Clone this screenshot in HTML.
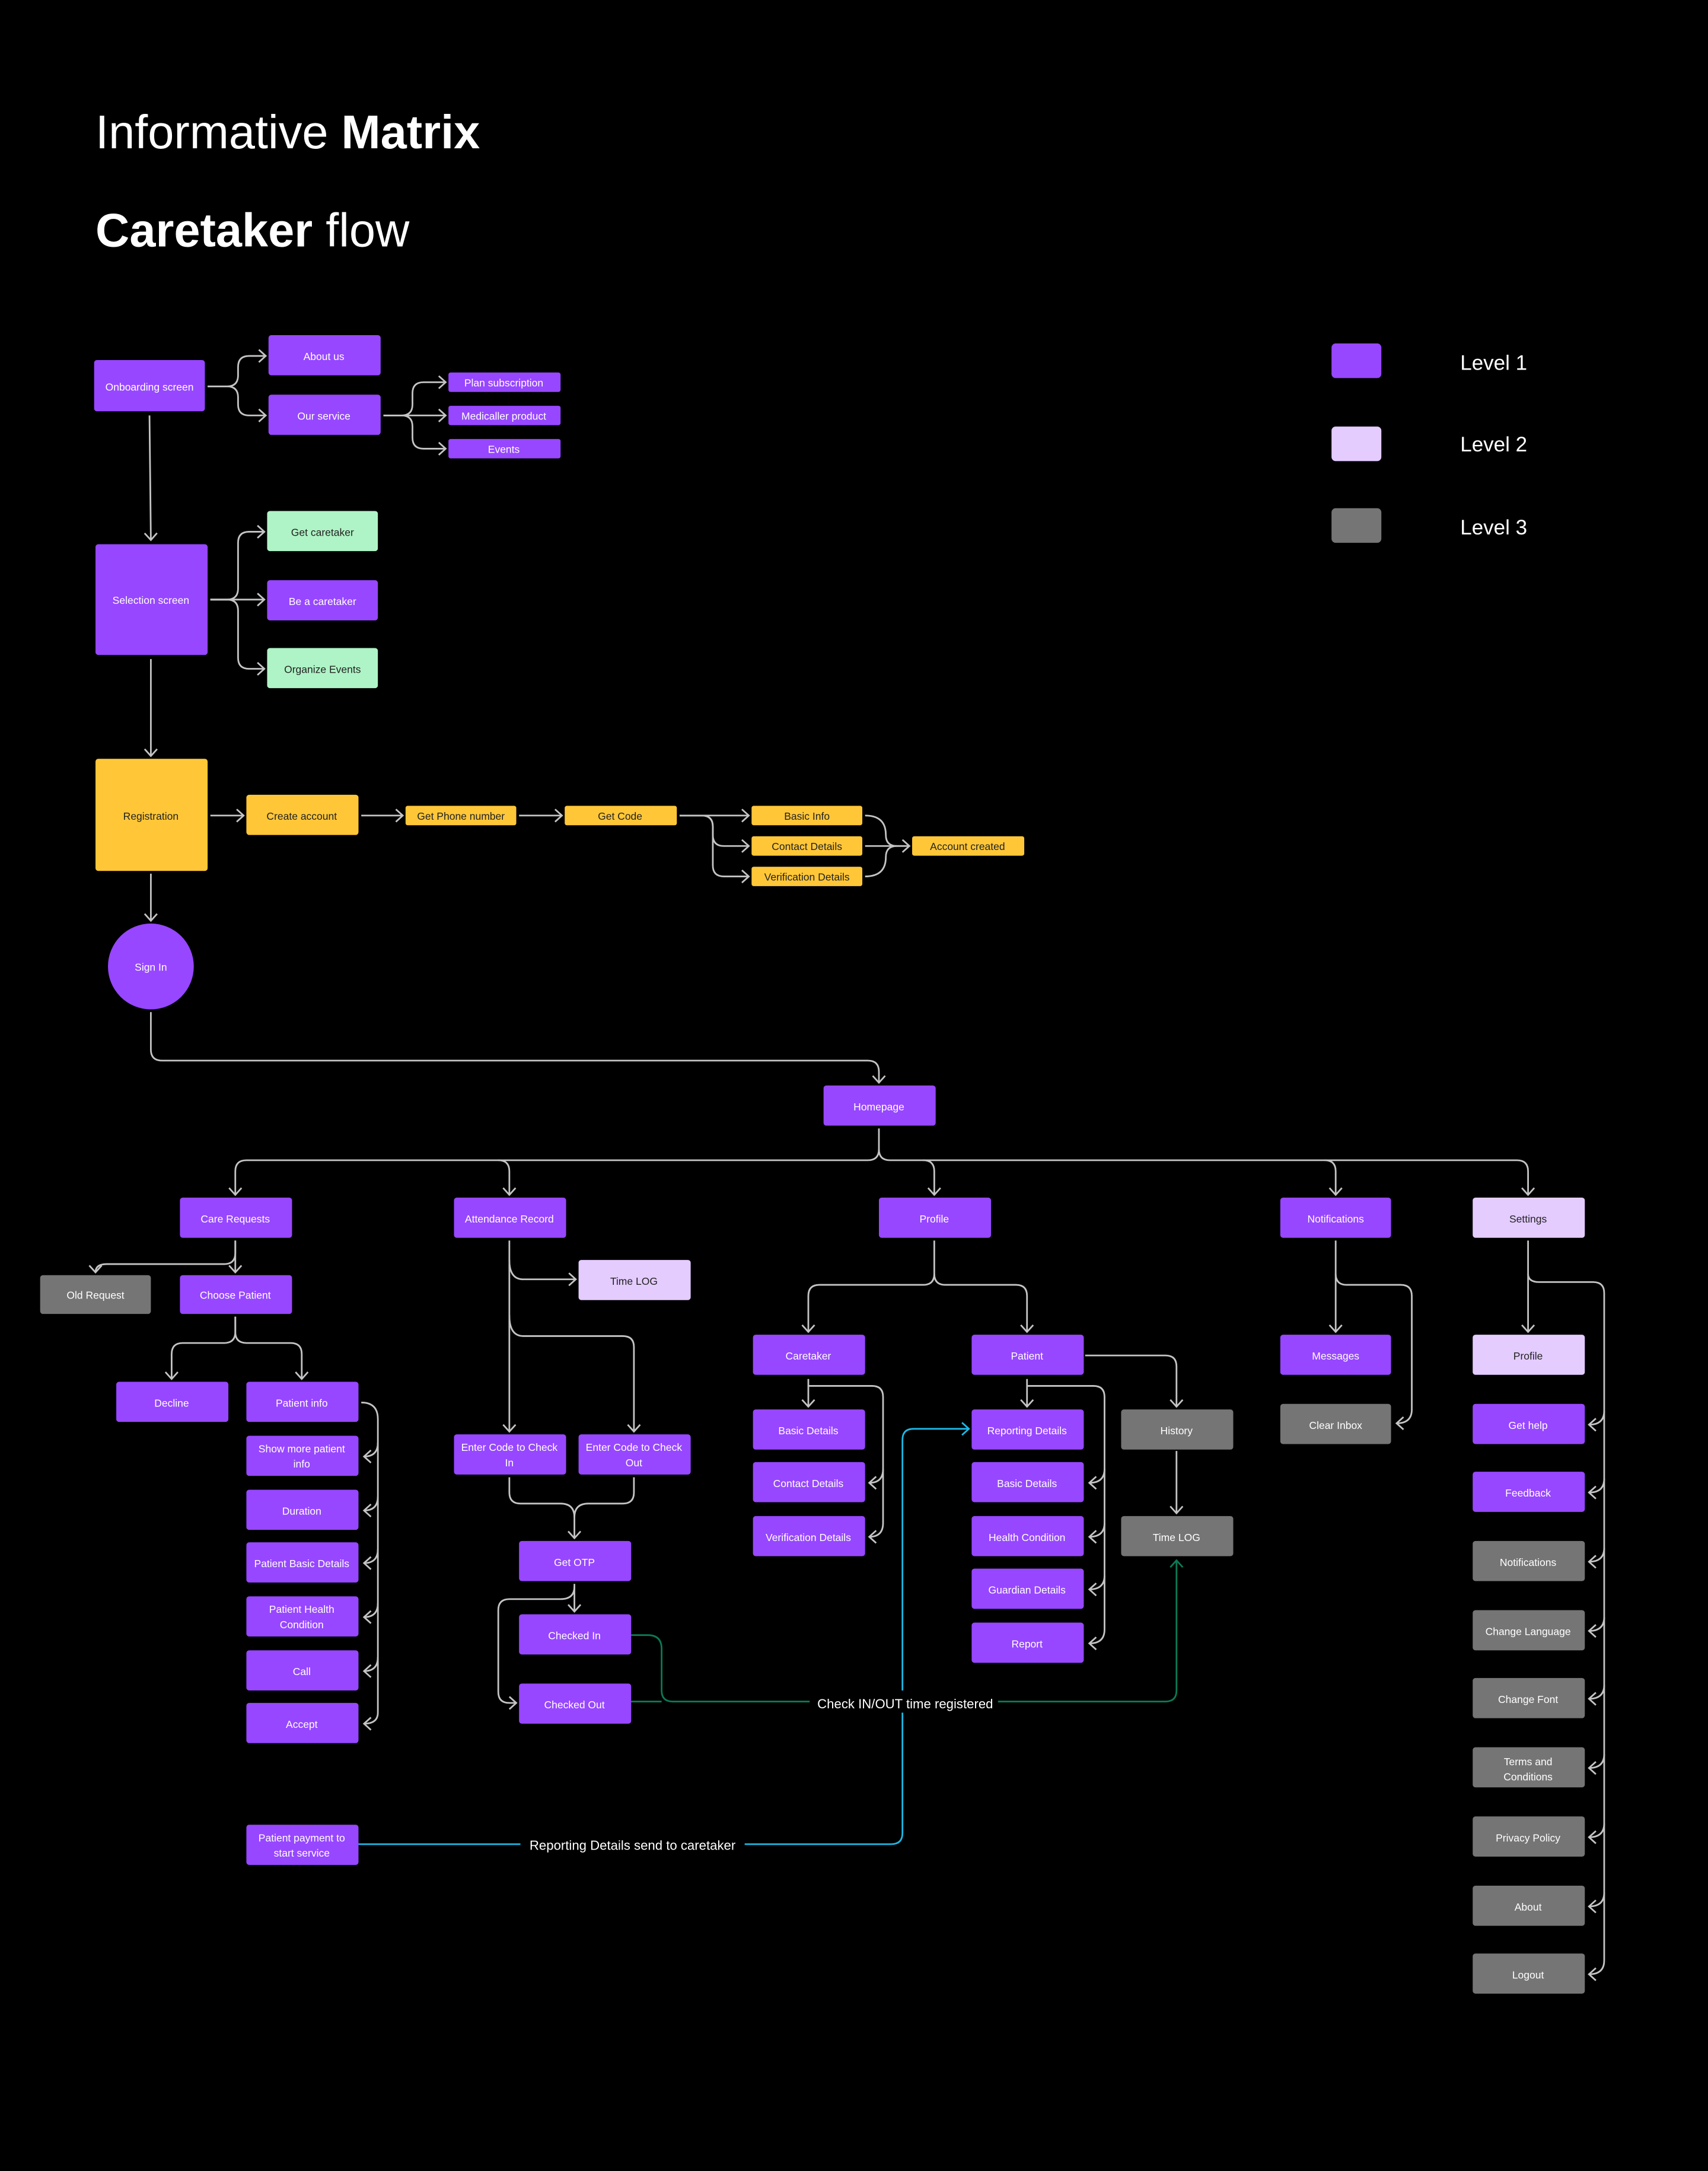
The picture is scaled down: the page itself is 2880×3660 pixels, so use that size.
<!DOCTYPE html>
<html><head><meta charset="utf-8"><style>
html,body{margin:0;padding:0;background:#000;}
svg{display:block;}
text{font-family:"Liberation Sans",sans-serif;}
</style></head><body>
<svg width="2880" height="3660" viewBox="0 0 1234 1568" xmlns="http://www.w3.org/2000/svg">
<defs>
<marker id="a" markerUnits="userSpaceOnUse" markerWidth="12" markerHeight="12" refX="6" refY="5" orient="auto"><path d="M1,0.5 L6,5 L1,9.5" fill="none" stroke="#c4c4c4" stroke-width="1.2"/></marker>
<marker id="at" markerUnits="userSpaceOnUse" markerWidth="12" markerHeight="12" refX="6" refY="5" orient="auto"><path d="M1,0.5 L6,5 L1,9.5" fill="none" stroke="#1cb8e6" stroke-width="1.2"/></marker>
<marker id="ag" markerUnits="userSpaceOnUse" markerWidth="12" markerHeight="12" refX="6" refY="5" orient="auto"><path d="M1,0.5 L6,5 L1,9.5" fill="none" stroke="#0b7a55" stroke-width="1.2"/></marker>
</defs>
<rect width="1234" height="1568" fill="#000"/>
<text x="69" y="107" fill="#fff" font-size="34">Informative <tspan font-weight="bold">Matrix</tspan></text>
<text x="69" y="178" fill="#fff" font-size="34"><tspan font-weight="bold">Caretaker</tspan> flow</text>

<rect x="962" y="248" width="36" height="25" rx="3" fill="#9747ff"/>
<rect x="962" y="308" width="36" height="25" rx="3" fill="#e4ccff"/>
<rect x="962" y="367" width="36" height="25" rx="3" fill="#757575"/>
<text x="1055" y="267" fill="#fff" font-size="15">Level 1</text>
<text x="1055" y="326" fill="#fff" font-size="15">Level 2</text>
<text x="1055" y="386" fill="#fff" font-size="15">Level 3</text>

<g fill="none" stroke="#c4c4c4" stroke-width="1.2">
<path d="M150,279 H164 Q172,279 172,271 V265 Q172,257 180,257 H192" marker-end="url(#a)"/>
<path d="M150,279 H164 Q172,279 172,287 V292 Q172,300 180,300 H192" marker-end="url(#a)"/>
<path d="M108,300 L109,390" marker-end="url(#a)"/>
<path d="M277,300 H290 Q298,300 298,292 V284 Q298,276 306,276 H322" marker-end="url(#a)"/>
<path d="M277,300 H322" marker-end="url(#a)"/>
<path d="M277,300 H290 Q298,300 298,308 V316 Q298,324 306,324 H322" marker-end="url(#a)"/>
<path d="M152,433 H164 Q172,433 172,425 V392 Q172,384 180,384 H191" marker-end="url(#a)"/>
<path d="M152,433 H191" marker-end="url(#a)"/>
<path d="M152,433 H164 Q172,433 172,441 V475 Q172,483 180,483 H191" marker-end="url(#a)"/>
<path d="M109,476 V546" marker-end="url(#a)"/>
<path d="M152,589 H176" marker-end="url(#a)"/>
<path d="M261,589 H291" marker-end="url(#a)"/>
<path d="M375,589 H406" marker-end="url(#a)"/>
<path d="M491,589 H541" marker-end="url(#a)"/>
<path d="M491,589 H507 Q515,589 515,597 V603 Q515,611 523,611 H541" marker-end="url(#a)"/>
<path d="M491,589 H507 Q515,589 515,597 V625 Q515,633 523,633 H541" marker-end="url(#a)"/>
<path d="M625,589 Q640,589 640,603 Q640,611 648,611 H657" marker-end="url(#a)"/>
<path d="M625,611 H657"/>
<path d="M625,633 Q640,633 640,619 Q640,611 648,611"/>
<path d="M109,631 V665" marker-end="url(#a)"/>
<path d="M109,731 V758 Q109,766 117,766 H627 Q635,766 635,774 V782" marker-end="url(#a)"/>
<path d="M635,815 V830 Q635,838 627,838 H178 Q170,838 170,846 V863" marker-end="url(#a)"/>
<path d="M360,838 Q368,838 368,846 V863" marker-end="url(#a)"/>
<path d="M635,830 Q635,838 643,838 H1096 Q1104,838 1104,846 V863" marker-end="url(#a)"/>
<path d="M667,838 Q675,838 675,846 V863" marker-end="url(#a)"/>
<path d="M957,838 Q965,838 965,846 V863" marker-end="url(#a)"/>
<path d="M170,896 V905 Q170,913 162,913 H77 Q69,913 69,919" marker-end="url(#a)"/>
<path d="M170,896 V919" marker-end="url(#a)"/>
<path d="M170,951 V962 Q170,970 162,970 H132 Q124,970 124,978 V996" marker-end="url(#a)"/>
<path d="M170,951 V962 Q170,970 178,970 H210 Q218,970 218,978 V996" marker-end="url(#a)"/>
<path d="M261,1013 Q273,1013 273,1025 V1237 Q273,1245 263,1245" marker-end="url(#a)"/>
<path d="M273,1042 Q273,1052 263,1052" marker-end="url(#a)"/>
<path d="M273,1081 Q273,1091 263,1091" marker-end="url(#a)"/>
<path d="M273,1119 Q273,1129 263,1129" marker-end="url(#a)"/>
<path d="M273,1158 Q273,1168 263,1168" marker-end="url(#a)"/>
<path d="M273,1197 Q273,1207 263,1207" marker-end="url(#a)"/>
<path d="M368,896 V1034" marker-end="url(#a)"/>
<path d="M368,910 Q368,924 378,924 H416" marker-end="url(#a)"/>
<path d="M368,950 Q368,965 378,965 H450 Q458,965 458,973 V1034" marker-end="url(#a)"/>
<path d="M368,1067 V1078 Q368,1086 376,1086 H405 Q415,1086 415,1096 V1111" marker-end="url(#a)"/>
<path d="M458,1067 V1078 Q458,1086 450,1086 H425 Q415,1086 415,1096"/>
<path d="M415,1144 V1164" marker-end="url(#a)"/>
<path d="M415,1146 Q415,1155 405,1155 H368 Q360,1155 360,1163 V1222 Q360,1230 368,1230 H373" marker-end="url(#a)"/>
<path d="M675,896 V920 Q675,928 667,928 H592 Q584,928 584,936 V962" marker-end="url(#a)"/>
<path d="M675,920 Q675,928 683,928 H734 Q742,928 742,936 V962" marker-end="url(#a)"/>
<path d="M584,996 V1016" marker-end="url(#a)"/>
<path d="M584,1001 H630 Q638,1001 638,1009 V1100 Q638,1110 628,1110" marker-end="url(#a)"/>
<path d="M638,1061 Q638,1071 628,1071" marker-end="url(#a)"/>
<path d="M742,996 V1016" marker-end="url(#a)"/>
<path d="M742,1001 H790 Q798,1001 798,1009 V1177 Q798,1187 787,1187" marker-end="url(#a)"/>
<path d="M798,1061 Q798,1071 787,1071" marker-end="url(#a)"/>
<path d="M798,1100 Q798,1110 787,1110" marker-end="url(#a)"/>
<path d="M798,1138 Q798,1148 787,1148" marker-end="url(#a)"/>
<path d="M784,979 H842 Q850,979 850,987 V1016" marker-end="url(#a)"/>
<path d="M850,1048 V1093" marker-end="url(#a)"/>
<path d="M965,896 V962" marker-end="url(#a)"/>
<path d="M965,920 Q965,928 973,928 H1012 Q1020,928 1020,936 V1018 Q1020,1028 1009,1028" marker-end="url(#a)"/>
<path d="M1104,896 V962" marker-end="url(#a)"/>
<path d="M1104,920 Q1104,926 1112,926 H1151 Q1159,926 1159,934 V1416 Q1159,1426 1148,1426" marker-end="url(#a)"/>
<path d="M1159,1019 Q1159,1029 1148,1029" marker-end="url(#a)"/>
<path d="M1159,1068 Q1159,1078 1148,1078" marker-end="url(#a)"/>
<path d="M1159,1118 Q1159,1128 1148,1128" marker-end="url(#a)"/>
<path d="M1159,1168 Q1159,1178 1148,1178" marker-end="url(#a)"/>
<path d="M1159,1217 Q1159,1227 1148,1227" marker-end="url(#a)"/>
<path d="M1159,1267 Q1159,1277 1148,1277" marker-end="url(#a)"/>
<path d="M1159,1317 Q1159,1327 1148,1327" marker-end="url(#a)"/>
<path d="M1159,1367 Q1159,1377 1148,1377" marker-end="url(#a)"/>
</g>
<g fill="none" stroke-width="1.2">
<path d="M259,1332 H644 Q652,1332 652,1324 V1040 Q652,1032 660,1032 H700" stroke="#1cb8e6" marker-end="url(#at)"/>
<path d="M456,1181 H468 Q478,1181 478,1191 V1221 Q478,1229 486,1229 H842 Q850,1229 850,1221 V1127" stroke="#0b7a55" marker-end="url(#ag)"/>
<path d="M456,1229 H478" stroke="#0b7a55"/>
</g>
<rect x="376" y="1324" width="162" height="16" fill="#000"/>
<text x="457" y="1336" fill="#fff" font-size="9.5" text-anchor="middle">Reporting Details send to caretaker</text>
<rect x="585" y="1221" width="136" height="16" fill="#000"/>
<text x="654" y="1234" fill="#fff" font-size="9.5" text-anchor="middle">Check IN/OUT time registered</text>

<g font-size="7.5" text-anchor="middle">
<!-- purple nodes -->
<g fill="#9747ff">
<rect x="68" y="260" width="80" height="37" rx="2"/>
<rect x="194" y="242" width="81" height="29" rx="2"/>
<rect x="194" y="285" width="81" height="29" rx="2"/>
<rect x="324" y="269" width="81" height="14" rx="1.5"/>
<rect x="324" y="293" width="81" height="14" rx="1.5"/>
<rect x="324" y="317" width="81" height="14" rx="1.5"/>
<rect x="69" y="393" width="81" height="80" rx="2"/>
<rect x="193" y="419" width="80" height="29" rx="2"/>
<circle cx="109" cy="698" r="31"/>
<rect x="595" y="784" width="81" height="29" rx="2"/>
<rect x="130" y="865" width="81" height="29" rx="2"/>
<rect x="328" y="865" width="81" height="29" rx="2"/>
<rect x="635" y="865" width="81" height="29" rx="2"/>
<rect x="925" y="865" width="80" height="29" rx="2"/>
<rect x="130" y="921" width="81" height="28" rx="2"/>
<rect x="84" y="998" width="81" height="29" rx="2"/>
<rect x="178" y="998" width="81" height="29" rx="2"/>
<rect x="178" y="1037" width="81" height="29" rx="2"/>
<rect x="178" y="1076" width="81" height="29" rx="2"/>
<rect x="178" y="1114" width="81" height="29" rx="2"/>
<rect x="178" y="1153" width="81" height="29" rx="2"/>
<rect x="178" y="1192" width="81" height="29" rx="2"/>
<rect x="178" y="1230" width="81" height="29" rx="2"/>
<rect x="178" y="1318" width="81" height="29" rx="2"/>
<rect x="328" y="1036" width="81" height="29" rx="2"/>
<rect x="418" y="1036" width="81" height="29" rx="2"/>
<rect x="375" y="1113" width="81" height="29" rx="2"/>
<rect x="375" y="1166" width="81" height="29" rx="2"/>
<rect x="375" y="1216" width="81" height="29" rx="2"/>
<rect x="544" y="964" width="81" height="29" rx="2"/>
<rect x="544" y="1018" width="81" height="29" rx="2"/>
<rect x="544" y="1056" width="81" height="29" rx="2"/>
<rect x="544" y="1095" width="81" height="29" rx="2"/>
<rect x="702" y="964" width="81" height="29" rx="2"/>
<rect x="702" y="1018" width="81" height="29" rx="2"/>
<rect x="702" y="1056" width="81" height="29" rx="2"/>
<rect x="702" y="1095" width="81" height="29" rx="2"/>
<rect x="702" y="1133" width="81" height="29" rx="2"/>
<rect x="702" y="1172" width="81" height="29" rx="2"/>
<rect x="925" y="964" width="80" height="29" rx="2"/>
<rect x="1064" y="1014" width="81" height="29" rx="2"/>
<rect x="1064" y="1063" width="81" height="29" rx="2"/>
</g>
<g fill="#e4ccff">
<rect x="1064" y="865" width="81" height="29" rx="2"/>
<rect x="418" y="910" width="81" height="29" rx="2"/>
<rect x="1064" y="964" width="81" height="29" rx="2"/>
</g>
<g fill="#aff4c6">
<rect x="193" y="369" width="80" height="29" rx="2"/>
<rect x="193" y="468" width="80" height="29" rx="2"/>
</g>
<g fill="#ffc738">
<rect x="69" y="548" width="81" height="81" rx="2"/>
<rect x="178" y="574" width="81" height="29" rx="2"/>
<rect x="293" y="582" width="80" height="14" rx="1.5"/>
<rect x="408" y="582" width="81" height="14" rx="1.5"/>
<rect x="543" y="582" width="80" height="14" rx="1.5"/>
<rect x="543" y="604" width="80" height="14" rx="1.5"/>
<rect x="543" y="626" width="80" height="14" rx="1.5"/>
<rect x="659" y="604" width="81" height="14" rx="1.5"/>
</g>
<g fill="#757575">
<rect x="29" y="921" width="80" height="28" rx="2"/>
<rect x="810" y="1018" width="81" height="29" rx="2"/>
<rect x="810" y="1095" width="81" height="29" rx="2"/>
<rect x="925" y="1014" width="80" height="29" rx="2"/>
<rect x="1064" y="1113" width="81" height="29" rx="2"/>
<rect x="1064" y="1163" width="81" height="29" rx="2"/>
<rect x="1064" y="1212" width="81" height="29" rx="2"/>
<rect x="1064" y="1262" width="81" height="29" rx="2"/>
<rect x="1064" y="1312" width="81" height="29" rx="2"/>
<rect x="1064" y="1362" width="81" height="29" rx="2"/>
<rect x="1064" y="1411" width="81" height="29" rx="2"/>
</g>

<g fill="#fff">
<text x="108" y="282">Onboarding screen</text>
<text x="234" y="260">About us</text>
<text x="234" y="303">Our service</text>
<text x="364" y="279">Plan subscription</text>
<text x="364" y="303">Medicaller product</text>
<text x="364" y="327">Events</text>
<text x="109" y="436">Selection screen</text>
<text x="233" y="437">Be a caretaker</text>
<text x="109" y="701">Sign In</text>
<text x="635" y="802">Homepage</text>
<text x="170" y="883">Care Requests</text>
<text x="368" y="883">Attendance Record</text>
<text x="675" y="883">Profile</text>
<text x="965" y="883">Notifications</text>
<text x="69" y="938">Old Request</text>
<text x="170" y="938">Choose Patient</text>
<text x="124" y="1016">Decline</text>
<text x="218" y="1016">Patient info</text>
<text x="218" y="1049">Show more patient</text><text x="218" y="1060">info</text>
<text x="218" y="1094">Duration</text>
<text x="218" y="1132">Patient Basic Details</text>
<text x="218" y="1165">Patient Health</text><text x="218" y="1176">Condition</text>
<text x="218" y="1210">Call</text>
<text x="218" y="1248">Accept</text>
<text x="218" y="1330">Patient payment to</text><text x="218" y="1341">start service</text>
<text x="368" y="1048">Enter Code to Check</text><text x="368" y="1059">In</text>
<text x="458" y="1048">Enter Code to Check</text><text x="458" y="1059">Out</text>
<text x="415" y="1131">Get OTP</text>
<text x="415" y="1184">Checked In</text>
<text x="415" y="1234">Checked Out</text>
<text x="584" y="982">Caretaker</text>
<text x="584" y="1036">Basic Details</text>
<text x="584" y="1074">Contact Details</text>
<text x="584" y="1113">Verification Details</text>
<text x="742" y="982">Patient</text>
<text x="742" y="1036">Reporting Details</text>
<text x="742" y="1074">Basic Details</text>
<text x="742" y="1113">Health Condition</text>
<text x="742" y="1151">Guardian Details</text>
<text x="742" y="1190">Report</text>
<text x="850" y="1036">History</text>
<text x="850" y="1113">Time LOG</text>
<text x="965" y="982">Messages</text>
<text x="965" y="1032">Clear Inbox</text>
<text x="1104" y="1032">Get help</text>
<text x="1104" y="1081">Feedback</text>
<text x="1104" y="1131">Notifications</text>
<text x="1104" y="1181">Change Language</text>
<text x="1104" y="1230">Change Font</text>
<text x="1104" y="1275">Terms and</text><text x="1104" y="1286">Conditions</text>
<text x="1104" y="1330">Privacy Policy</text>
<text x="1104" y="1380">About</text>
<text x="1104" y="1429">Logout</text>
</g>
<g fill="#222">
<text x="1104" y="883">Settings</text>
<text x="458" y="928">Time LOG</text>
<text x="1104" y="982">Profile</text>
<text x="233" y="387">Get caretaker</text>
<text x="233" y="486">Organize Events</text>
<text x="109" y="592">Registration</text>
<text x="218" y="592">Create account</text>
<text x="333" y="592">Get Phone number</text>
<text x="448" y="592">Get Code</text>
<text x="583" y="592">Basic Info</text>
<text x="583" y="614">Contact Details</text>
<text x="583" y="636">Verification Details</text>
<text x="699" y="614">Account created</text>
</g>
</g>
</svg>
</body></html>
